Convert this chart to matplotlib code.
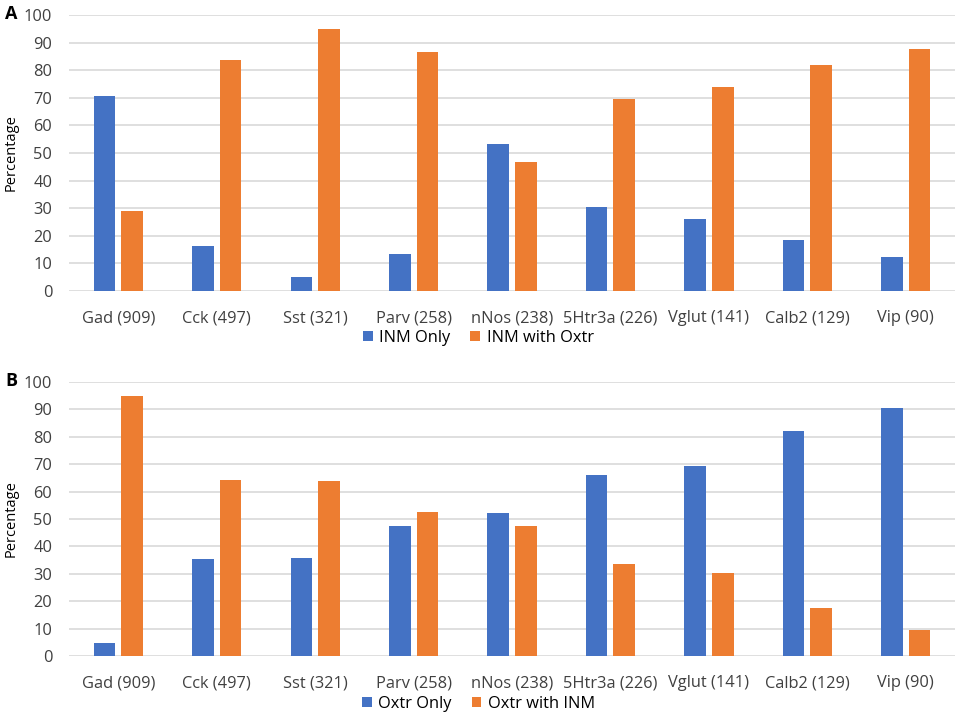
import matplotlib

matplotlib.use("Agg")
import matplotlib.pyplot as plt
import numpy as np

plt.rcParams["font.family"] = ["Open Sans", "DejaVu Sans"]

categories = ["Gad (909)", "Cck (497)", "Sst (321)", "Parv (258)", "nNos (238)",
              "5Htr3a (226)", "Vglut (141)", "Calb2 (129)", "Vip (90)"]

# panel A
inm_only = [70.8, 16.2, 5.0, 13.5, 53.3, 30.6, 26.0, 18.4, 12.4]
inm_with_oxtr = [29.0, 83.7, 95.0, 86.5, 46.6, 69.4, 74.0, 81.8, 87.6]
# panel B
oxtr_only = [4.9, 35.5, 35.9, 47.3, 52.3, 66.2, 69.5, 82.2, 90.4]
oxtr_with_inm = [94.9, 64.4, 63.9, 52.6, 47.6, 33.7, 30.4, 17.5, 9.5]

BLUE = "#4472C4"
ORANGE = "#ED7D31"
W, H = 957, 716

fig = plt.figure(figsize=(W / 100, H / 100), dpi=100)


def panel(top_px, bot_px, s1, s2, names, letter, legend_y):
    ax = fig.add_axes([69 / W, 1 - bot_px / H, 886 / W, (bot_px - top_px) / H])
    x = np.arange(len(categories))
    bw = 0.22
    ax.bar(x - bw / 2 - 0.03, s1, bw, color=BLUE, label=names[0], zorder=3)
    ax.bar(x + bw / 2 + 0.03, s2, bw, color=ORANGE, label=names[1], zorder=3)
    ax.set_xlim(-0.5, len(categories) - 0.5)
    ax.set_ylim(0, 100)
    ax.set_yticks(range(0, 101, 10))
    ax.set_xticks(x)
    ax.set_xticklabels(categories)
    ax.grid(axis="y", color="#D9D9D9", lw=1.2, zorder=0)
    for s in ax.spines.values():
        s.set_visible(False)
    ax.tick_params(axis="both", length=0, labelsize=11.8, colors="#404040")
    ax.tick_params(axis="x", pad=14)
    ax.tick_params(axis="y", pad=12)
    ax.set_ylabel("Percentage", fontsize=10.5)
    ax.yaxis.set_label_coords(-0.057, 0.5)
    fig.text(5 / W, 1 - top_px / H + 0.002, letter, fontsize=13, fontweight="bold",
             ha="left", va="center")
    fig.legend(*ax.get_legend_handles_labels(), loc="center",
               bbox_to_anchor=(0.5, 1 - legend_y / H), ncol=2, frameon=False,
               fontsize=11.8, handlelength=0.6, handleheight=0.6,
               handletextpad=0.4, columnspacing=1.2)
    return ax


panel(15, 291, inm_only, inm_with_oxtr, ["INM Only", "INM with Oxtr"], "A", 338)
panel(382, 656, oxtr_only, oxtr_with_inm, ["Oxtr Only", "Oxtr with INM"], "B", 704)

fig.savefig("out.png", dpi=100)
